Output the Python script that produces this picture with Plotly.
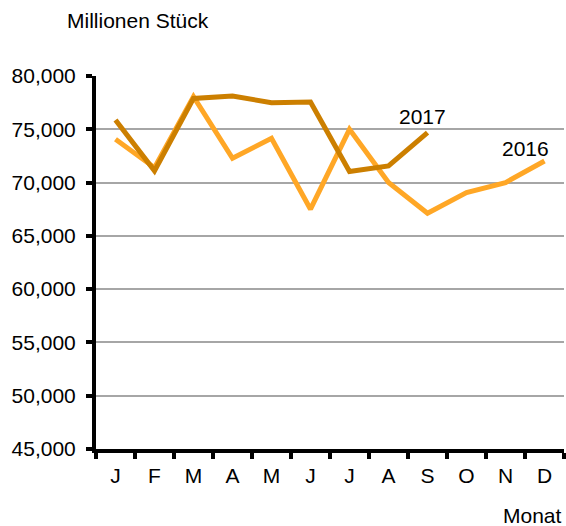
import plotly.graph_objects as go

months = ["J", "F", "M", "A", "M", "J", "J", "A", "S", "O", "N", "D"]
y2016 = [74060, 71400, 78070, 72280, 74160, 67500, 75000, 70000, 67130, 69060, 70000, 72030]
y2017 = [75870, 71100, 77900, 78120, 77500, 77560, 71030, 71560, 74690]
y_ticks = [45000, 50000, 55000, 60000, 65000, 70000, 75000, 80000]

x_idx = list(range(len(months)))
c2016 = "#FFA726"
c2017 = "#CC7F00"
font = "Liberation Sans, Arial, sans-serif"

fig = go.Figure()
fig.add_trace(go.Scatter(x=x_idx, y=y2016, mode="lines", name="2016",
                         line=dict(color=c2016, width=5), showlegend=False))
fig.add_trace(go.Scatter(x=x_idx[:len(y2017)], y=y2017, mode="lines", name="2017",
                         line=dict(color=c2017, width=5), showlegend=False))

fig.update_layout(
    width=566, height=526,
    margin=dict(l=96, r=2, t=76, b=77),
    paper_bgcolor="white", plot_bgcolor="white",
    font=dict(family=font, size=21, color="black"),
    xaxis=dict(
        range=[-0.5, 11.5], tickvals=x_idx, ticktext=months, ticks="",
        showgrid=False, zeroline=False,
        showline=True, linecolor="black", linewidth=4,
        minor=dict(tickvals=[i - 0.5 for i in range(13)], ticks="outside",
                   ticklen=6, tickwidth=4, tickcolor="black", showgrid=False),
        ticklabelstandoff=5,
    ),
    yaxis=dict(
        range=[45000, 80000], tickvals=y_ticks, tickformat=",d",
        ticks="outside", ticklen=6, tickwidth=4, tickcolor="black",
        showgrid=True, gridcolor="#A6A6A6", gridwidth=1.5, zeroline=False,
        showline=True, linecolor="black", linewidth=4,
        ticklabelstandoff=6,
    ),
    annotations=[
        dict(text="Millionen Stück", xref="paper", yref="paper", x=-0.066, y=1.150,
             xanchor="left", yanchor="middle", showarrow=False, font=dict(size=21)),
        dict(text="Monat", xref="paper", yref="paper", x=1.0, y=-0.177,
             xanchor="right", yanchor="middle", showarrow=False, font=dict(size=21)),
        dict(text="2017", xref="x", yref="y", x=7.87, y=76220,
             xanchor="center", yanchor="middle", showarrow=False, font=dict(size=21)),
        dict(text="2016", xref="x", yref="y", x=10.5, y=73180,
             xanchor="center", yanchor="middle", showarrow=False, font=dict(size=21)),
    ],
)

fig.write_html(
    "out.html",
    config={"displayModeBar": False},
    post_script="document.body.style.margin='0';document.body.style.overflow='hidden';",
)
